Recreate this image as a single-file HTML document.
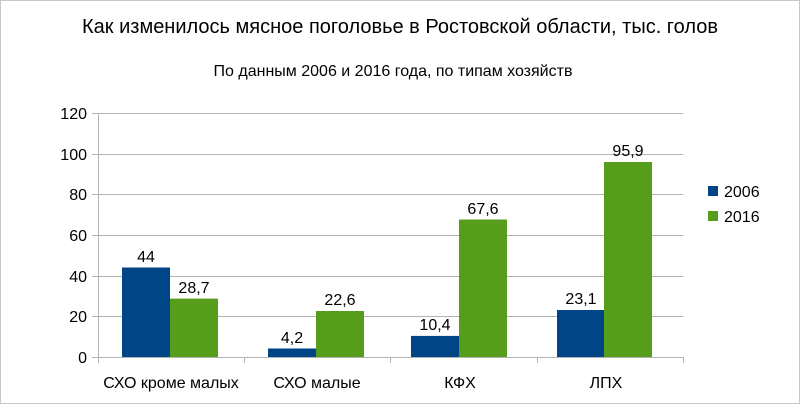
<!DOCTYPE html>
<html><head><meta charset="utf-8"><style>
body{margin:0;background:#fff}
svg{display:block}
text{font-family:"Liberation Sans",sans-serif;fill:#000}
</style></head><body>
<svg width="800" height="404" viewBox="0 0 800 404">
<rect x="0.5" y="0.5" width="799" height="403" fill="#fff" stroke="#c8c8c8"/>
<text x="400" y="33" font-size="20" text-anchor="middle">Как изменилось мясное поголовье в Ростовской области, тыс. голов</text>
<text x="393" y="76" font-size="16" text-anchor="middle">По данным 2006 и 2016 года, по типам хозяйств</text>
<g stroke="#b3b3b3" stroke-width="1">
<line x1="92" y1="113.5" x2="683" y2="113.5"/>
<line x1="92" y1="154.5" x2="683" y2="154.5"/>
<line x1="92" y1="194.5" x2="683" y2="194.5"/>
<line x1="92" y1="235.5" x2="683" y2="235.5"/>
<line x1="92" y1="276.5" x2="683" y2="276.5"/>
<line x1="92" y1="316.5" x2="683" y2="316.5"/>
<line x1="92" y1="357.5" x2="683" y2="357.5"/>
<line x1="98.5" y1="113" x2="98.5" y2="363"/>
<line x1="244.5" y1="357" x2="244.5" y2="363"/>
<line x1="390.5" y1="357" x2="390.5" y2="363"/>
<line x1="537.5" y1="357" x2="537.5" y2="363"/>
<line x1="683.5" y1="357" x2="683.5" y2="363"/>
</g>
<g font-size="16" text-anchor="end">
<text x="87" y="119">120</text><text x="87" y="160">100</text><text x="87" y="200">80</text>
<text x="87" y="241">60</text><text x="87" y="282">40</text><text x="87" y="322">20</text><text x="87" y="363">0</text>
</g>
<g fill="#004586">
<rect x="122" y="267.5" width="48" height="89.5"/>
<rect x="268" y="348.5" width="48" height="8.5"/>
<rect x="411" y="335.9" width="48" height="21.1"/>
<rect x="557" y="310" width="47" height="47"/>
</g>
<g fill="#579d1c">
<rect x="170" y="298.6" width="48" height="58.4"/>
<rect x="316" y="311" width="48" height="46"/>
<rect x="459" y="219.5" width="48" height="137.5"/>
<rect x="604" y="162" width="48" height="195"/>
</g>
<g font-size="16" text-anchor="middle">
<text x="146" y="262">44</text><text x="194" y="293">28,7</text>
<text x="292" y="343">4,2</text><text x="340" y="305">22,6</text>
<text x="435" y="330">10,4</text><text x="483" y="214">67,6</text>
<text x="581" y="304">23,1</text><text x="628" y="156">95,9</text>
<text x="171" y="388">СХО кроме малых</text><text x="317" y="388">СХО малые</text>
<text x="460" y="388">КФХ</text><text x="606" y="388">ЛПХ</text>
</g>
<rect x="708" y="186" width="10" height="10" fill="#004586"/>
<rect x="708" y="211" width="10" height="10" fill="#579d1c"/>
<text x="724" y="197" font-size="16">2006</text>
<text x="724" y="222" font-size="16">2016</text>
</svg>
</body></html>
